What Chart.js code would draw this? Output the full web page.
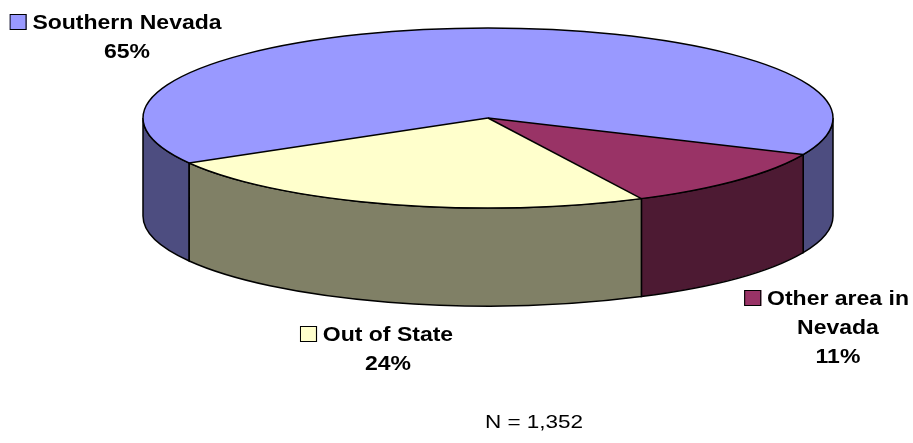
<!DOCTYPE html>
<html>
<head>
<meta charset="utf-8">
<script src="https://cdn.jsdelivr.net/npm/chart.js@4"></script>
<style>
  body { margin: 0; background: #fff; }
  #wrap { position: relative; width: 913px; height: 443px; overflow: hidden; }
  .lbl {
    position: absolute;
    font: bold 20px Arial, "Liberation Sans", sans-serif;
    line-height: 29px;
    text-align: center;
    white-space: nowrap;
    color: #000;
    transform: translateX(-50%) scaleX(1.15);
  }
  .lbl .first { position: relative; display: inline-block; }
  .lbl .box {
    position: absolute;
    left: -20px;
    top: 6px;
    width: 15px;
    height: 16px;
    box-sizing: border-box;
    border: 1.5px solid #000;
  }
  #note {
    position: absolute;
    left: 534px;
    top: 412px;
    font: 18px Arial, "Liberation Sans", sans-serif;
    line-height: 20px;
    white-space: nowrap;
    transform: translateX(-50%) scaleX(1.25);
  }
</style>
</head>
<body>
<div id="wrap">
  <canvas id="chart" width="913" height="443"></canvas>
  <div id="note"></div>
</div>
<script>
// data
const categories = ["Southern Nevada", "Other area in Nevada", "Out of State"];
const shares = [65, 11, 24];
const sampleSize = 1352;

// styles
const topColors = ["#9999FF", "#993366", "#FFFFCC"];
const sideColors = ["#4D4D80", "#4D1A33", "#808066"];

// where the flattened pie sits on the page
const pie = { cx: 488, cy: 118, rx: 345, ry: 90, depth: 98 };

// label placement: text centre x, top of first line, where the name wraps
const labelPos = [
  { x: 127, top: 8, breakAt: null },
  { x: 838, top: 284, breakAt: 13 },
  { x: 388, top: 320, breakAt: null }
];

function frontRanges(s, e) {
  const out = [];
  for (let k = -1; k <= 2; k++) {
    const a = Math.max(s, 2 * Math.PI * k);
    const b = Math.min(e, 2 * Math.PI * k + Math.PI);
    if (b > a) out.push([a, b]);
  }
  return out;
}

const pie3d = {
  id: "pie3d",
  beforeDatasetsDraw(chart) {
    const ctx = chart.ctx;
    const arcs = chart.getDatasetMeta(0).data;
    ctx.save();
    ctx.lineWidth = 1.5;
    ctx.strokeStyle = "#000";
    arcs.forEach((arc, i) => {
      const { startAngle, endAngle } = arc.getProps(["startAngle", "endAngle"], true);
      frontRanges(startAngle, endAngle).forEach(([a, b]) => {
        ctx.beginPath();
        ctx.ellipse(pie.cx, pie.cy, pie.rx, pie.ry, 0, a, b, false);
        ctx.lineTo(pie.cx + pie.rx * Math.cos(b), pie.cy + pie.depth + pie.ry * Math.sin(b));
        ctx.ellipse(pie.cx, pie.cy + pie.depth, pie.rx, pie.ry, 0, b, a, true);
        ctx.closePath();
        ctx.fillStyle = sideColors[i];
        ctx.fill();
        ctx.stroke();
      });
    });
    ctx.restore();

    // squash the library's round pie into the top face
    const a0 = arcs[0];
    const { x, y, outerRadius } = a0.getProps(["x", "y", "outerRadius"], true);
    ctx.save();
    ctx.translate(pie.cx, pie.cy);
    ctx.scale(pie.rx / outerRadius, pie.ry / outerRadius);
    ctx.translate(-x, -y);
  },
  afterDatasetsDraw(chart) {
    const ctx = chart.ctx;
    ctx.restore();
    const arcs = chart.getDatasetMeta(0).data;
    ctx.save();
    ctx.lineWidth = 1.5;
    ctx.strokeStyle = "#000";
    ctx.beginPath();
    ctx.ellipse(pie.cx, pie.cy, pie.rx, pie.ry, 0, 0, Math.PI * 2);
    ctx.stroke();
    arcs.forEach(arc => {
      const { startAngle } = arc.getProps(["startAngle"], true);
      ctx.beginPath();
      ctx.moveTo(pie.cx, pie.cy);
      ctx.lineTo(pie.cx + pie.rx * Math.cos(startAngle), pie.cy + pie.ry * Math.sin(startAngle));
      ctx.stroke();
    });
    ctx.restore();
  }
};

new Chart(document.getElementById("chart").getContext("2d"), {
  type: "pie",
  data: {
    labels: categories,
    datasets: [{
      data: shares,
      backgroundColor: topColors,
      borderWidth: 0
    }]
  },
  options: {
    responsive: false,
    animation: false,
    events: [],
    rotation: 240,
    layout: { padding: 0 },
    plugins: {
      legend: { display: false },
      tooltip: { enabled: false }
    }
  },
  plugins: [pie3d]
});

// labels
const wrap = document.getElementById("wrap");
const total = shares.reduce((s, v) => s + v, 0);
categories.forEach((name, i) => {
  const pos = labelPos[i];
  const el = document.createElement("div");
  el.className = "lbl";
  el.style.left = pos.x + "px";
  el.style.top = pos.top + "px";

  let lines = [name];
  if (pos.breakAt) lines = [name.slice(0, pos.breakAt), name.slice(pos.breakAt + 1)];
  lines.push(Math.round(shares[i] / total * 100) + "%");

  lines.forEach((txt, j) => {
    const line = document.createElement("div");
    if (j === 0) {
      const span = document.createElement("span");
      span.className = "first";
      const box = document.createElement("span");
      box.className = "box";
      box.style.background = topColors[i];
      span.appendChild(box);
      span.appendChild(document.createTextNode(txt));
      line.appendChild(span);
    } else {
      line.textContent = txt;
    }
    el.appendChild(line);
  });
  wrap.appendChild(el);
});

document.getElementById("note").textContent = "N = " + sampleSize.toLocaleString("en-US");
</script>
</body>
</html>
